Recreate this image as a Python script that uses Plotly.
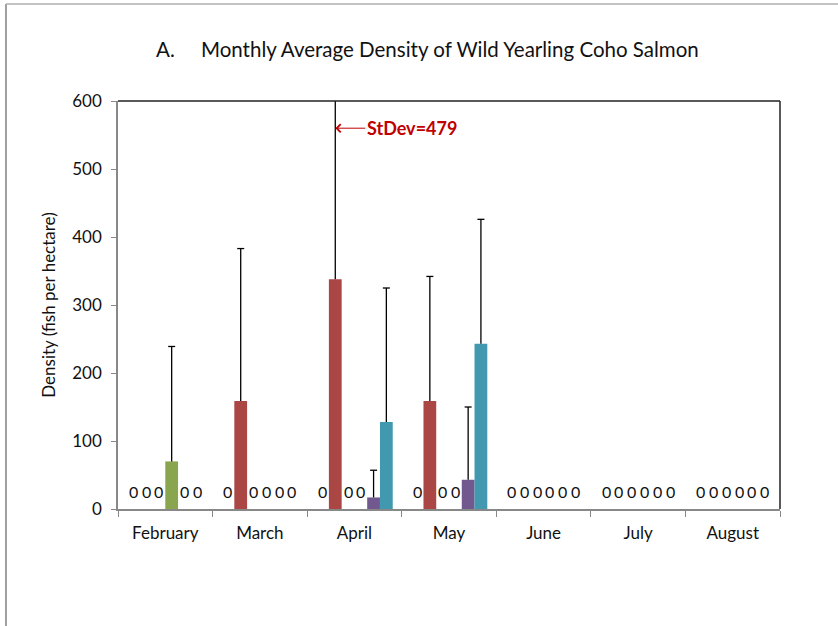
import plotly.graph_objects as go

months = ["February", "March", "April", "May", "June", "July", "August"]
series_names = ["Series 1", "Series 2", "Series 3", "Series 4", "Series 5", "Series 6"]
series_colors = ["#4572A7", "#AA4643", "#DB843D", "#89A54E", "#71588F", "#4198AF"]

# mean density per series (fish per hectare)
means = [
    [0, 0, 0, 0, 0, 0, 0],
    [0, 159, 338, 159, 0, 0, 0],
    [0, 0, 0, 0, 0, 0, 0],
    [70, 0, 0, 0, 0, 0, 0],
    [0, 0, 17, 43, 0, 0, 0],
    [0, 0, 128, 243, 0, 0, 0],
]
# standard deviations (plus direction only)
stdevs = [
    [0, 0, 0, 0, 0, 0, 0],
    [0, 224, 479, 183, 0, 0, 0],
    [0, 0, 0, 0, 0, 0, 0],
    [169, 0, 0, 0, 0, 0, 0],
    [0, 0, 40, 107, 0, 0, 0],
    [0, 0, 197, 183, 0, 0, 0],
]

y_ticks = [0, 100, 200, 300, 400, 500, 600]
y_max = 600
title_text = "A.&nbsp;&nbsp;&nbsp;&nbsp; Monthly Average Density of Wild Yearling Coho Salmon"
y_title = "Density (fish per hectare)"
stdev_label = "StDev=479"

FONT = "Lato, Open Sans, sans-serif"
bargap = 0.19
nser = len(series_names)
barw = (1 - bargap) / nser
cap_half = 0.037  # half cap width, in category units

fig = go.Figure()
for j in range(nser):
    fig.add_trace(go.Bar(
        x=months, y=[v if v > 0 else None for v in means[j]], name=series_names[j],
        marker=dict(color=series_colors[j], line=dict(width=0)),
        error_y=dict(type="data", symmetric=False,
                     array=stdevs[j], arrayminus=[0] * len(months),
                     color="black", thickness=1.3, width=0),
    ))

annotations = []
shapes = []
for j in range(nser):
    for i, v in enumerate(means[j]):
        xc = i + (j - (nser - 1) / 2) * barw
        if v == 0:
            # zero data labels
            annotations.append(dict(
                x=xc, y=0, xref="x", yref="y",
                text="0", showarrow=False, yshift=18,
                font=dict(family=FONT, size=16, color="#111"),
            ))
        elif v + stdevs[j][i] <= y_max:
            # top cap of the (plus-only) error bar
            top = v + stdevs[j][i]
            shapes.append(dict(type="line", xref="x", yref="y",
                               x0=xc - cap_half, x1=xc + cap_half, y0=top, y1=top,
                               line=dict(color="black", width=1.3)))

# StDev callout on April series 2
annotations.append(dict(
    x=2 + (1 - (nser - 1) / 2) * barw, y=560, xref="x", yref="y",
    text="<b>" + stdev_label + "</b>", showarrow=True, ax=30, ay=0,
    xanchor="left", arrowhead=4, arrowsize=1.6, arrowwidth=1, arrowcolor="#C00000",
    font=dict(family=FONT, size=18, color="#C00000"),
))

annotations.append(dict(
    x=0.467, y=1.1275, xref="paper", yref="paper", text=title_text, showarrow=False,
    xanchor="center", yanchor="middle",
    font=dict(family=FONT, size=20.5, color="#111"),
))

shapes += [
    dict(type="line", xref="x domain", yref="y domain", x0=0, x1=1, y0=1, y1=1,
         line=dict(color="#222", width=1.5)),
    dict(type="line", xref="x domain", yref="y domain", x0=1, x1=1, y0=0, y1=1,
         line=dict(color="#222", width=1.5)),
    dict(type="line", xref="paper", yref="paper", x0=-0.1692, x1=-0.1692, y0=1.2377, y1=-0.4,
         line=dict(color="#a0a0a0", width=2)),
    dict(type="line", xref="paper", yref="paper", x0=-0.1692, x1=1.2, y0=1.2377, y1=1.2377,
         line=dict(color="#b0b0b0", width=1.5)),
]

fig.update_layout(
    width=838, height=626,
    margin=dict(l=118, r=58, t=101, b=117),
    paper_bgcolor="white", plot_bgcolor="white",
    barmode="group", bargap=bargap, bargroupgap=0,
    showlegend=False,
    annotations=annotations, shapes=shapes,
    font=dict(family=FONT, color="#111"),
)
fig.update_xaxes(
    type="category", showline=True, linecolor="#888", linewidth=1.5,
    ticks="outside", tickson="boundaries", ticklen=6, tickcolor="#888",
    tickfont=dict(size=17), ticklabelstandoff=8, showgrid=False, zeroline=False,
)
fig.update_yaxes(
    range=[0, y_max], tickvals=y_ticks, showline=True, linecolor="#888", linewidth=1.5,
    ticks="outside", ticklen=5, tickcolor="#888", tickfont=dict(size=17),
    ticklabelstandoff=6, showgrid=False, zeroline=False,
    title=dict(text=y_title, font=dict(size=17), standoff=12),
)

fig.write_html("out.html", config={"displayModeBar": False},
               post_script="document.body.style.margin='0';")
